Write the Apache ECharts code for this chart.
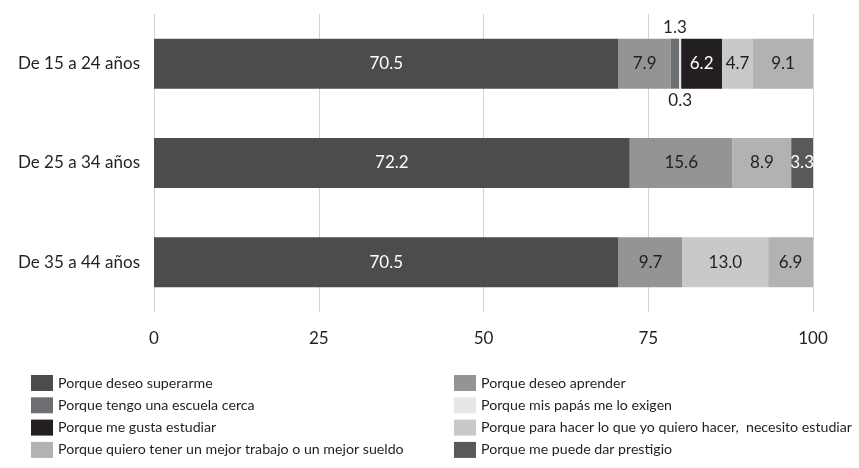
<!DOCTYPE html>
<html>
<head>
<meta charset="utf-8">
<script src="https://cdn.jsdelivr.net/npm/echarts@6/dist/echarts.min.js"></script>
<style>
  html, body { margin: 0; padding: 0; background: #fff; }
  #main { width: 859px; height: 468px; }
</style>
</head>
<body>
<div id="main"></div>
<script>
// categories (top to bottom)
const ages = ["De 15 a 24 años", "De 25 a 34 años", "De 35 a 44 años"];

// one array per reason, values per age group
const superarme = [70.5, 72.2, 70.5];
const aprender = [7.9, 15.6, 9.7];
const escuelaCerca = [1.3, 0, 0];
const papasExigen = [0.3, 0, 0];
const gustaEstudiar = [6.2, 0, 0];
const paraHacer = [4.7, 0, 13.0];
const mejorTrabajo = [9.1, 8.9, 6.9];
const prestigio = [0, 3.3, 0];

const xTicks = [0, 25, 50, 75, 100];

const font = "Lato";
const ink = "#231f20";

function mk(name, data, color, labelColor, pos) {
  return {
    name: name,
    type: "bar",
    stack: "total",
    data: data,
    barWidth: 50,
    itemStyle: { color: color },
    label: {
      show: true,
      position: pos || "inside",
      distance: 3,
      color: labelColor,
      fontFamily: font,
      fontSize: 17,
      formatter: (p) => (p.value ? p.value.toFixed(1) : ""),
    },
  };
}

const series = [
  mk("Porque deseo superarme", superarme, "#4b4c4e", "#fff"),
  mk("Porque deseo aprender", aprender, "#939496", ink),
  mk("Porque tengo una escuela cerca", escuelaCerca, "#6d6e71", ink, "top"),
  mk("Porque mis papás me lo exigen", papasExigen, "#e6e7e8", ink, "bottom"),
  mk("Porque me gusta estudiar", gustaEstudiar, "#231f20", "#fff"),
  mk("Porque para hacer lo que yo quiero hacer,  necesito estudiar", paraHacer, "#c8c9cb", ink),
  mk("Porque quiero tener un mejor trabajo o un mejor sueldo", mejorTrabajo, "#b1b2b4", ink),
  mk("Porque me puede dar prestigio", prestigio, "#58595b", "#fff"),
];

const legendBase = {
  orient: "vertical",
  top: 375,
  height: 100,
  padding: 0,
  itemWidth: 22,
  itemHeight: 16,
  itemGap: 6.3,
  icon: "rect",
  selectedMode: false,
  textStyle: { fontFamily: font, fontSize: 14.2, color: ink },
};

const chart = echarts.init(document.getElementById("main"));
chart.setOption({
  animation: false,
  grid: { left: 154, right: 46, top: 14, bottom: 156 },
  xAxis: {
    type: "value",
    min: 0,
    max: 100,
    interval: 25,
    axisLine: { show: false },
    axisTick: { show: false },
    splitLine: { lineStyle: { color: "#d4d4d4", width: 1 } },
    axisLabel: {
      margin: 18,
      fontFamily: font,
      fontSize: 17,
      color: ink,
      formatter: (v) => (xTicks.includes(v) ? String(v) : ""),
    },
  },
  yAxis: {
    type: "category",
    data: ages,
    inverse: true,
    axisTick: { show: false },
    axisLine: { show: false },
    axisLabel: { margin: 14, fontFamily: font, fontSize: 17, color: ink },
  },
  legend: [
    Object.assign({}, legendBase, {
      left: 31,
      data: series.filter((s, i) => i % 2 === 0).map((s) => s.name),
    }),
    Object.assign({}, legendBase, {
      left: 454,
      data: series.filter((s, i) => i % 2 === 1).map((s) => s.name),
    }),
  ],
  series: series,
});
</script>
</body>
</html>
